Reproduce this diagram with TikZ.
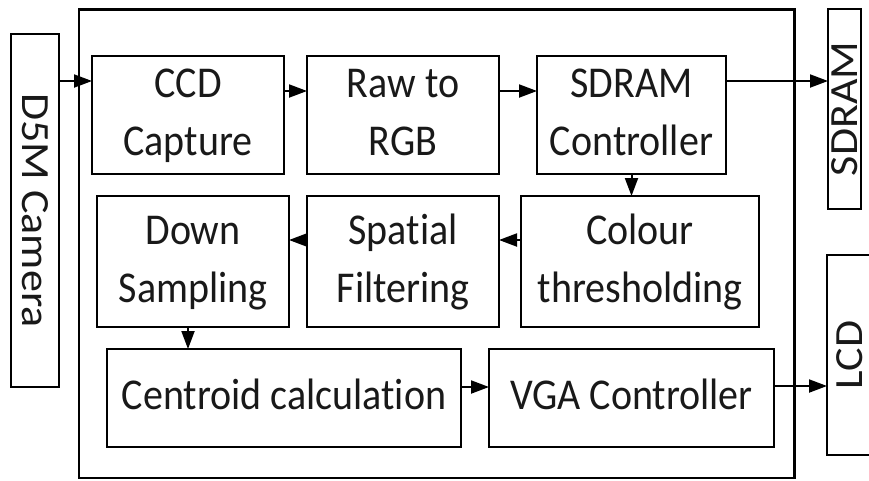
\documentclass[tikz,border=0pt]{standalone}
\usepackage{fontspec}
\setmainfont{Carlito}[Ligatures=NoCommon]
\usetikzlibrary{arrows.meta}
% text slightly taller than wide, as in the block labels
\newcommand{\blocktext}[1]{\scalebox{1}[1.1]{\begin{tabular}{@{}c@{}}#1\end{tabular}}}
\newcommand{\sidetext}[1]{\scalebox{1.1}[1]{#1}}
\tikzset{
  block/.style={draw=black, line width=2pt, inner sep=0pt, outer sep=0pt,
    font=\fontsize{40}{52.7}\selectfont, text=black!90},
  frame/.style={draw=black, line width=2.2pt, inner sep=0pt, outer sep=0pt},
  arr/.style={line width=2pt, -{Triangle[length=18pt,width=13pt]}},
}
\begin{document}
\begin{tikzpicture}[x=1pt,y=-1pt]
\clip (0,0) rectangle (869,480);
\fill[white] (0,0) rectangle (869,480);
% FPGA frame
\node[frame, minimum width=715.5pt, minimum height=468.5pt] (fpga) at (436.75,243.75) {};
% external devices
\node[block, minimum width=48pt, minimum height=353pt] (cam) at (35,210.5)
  {\rotatebox{-90}{\sidetext{D5M Camera}}};
\node[block, minimum width=33pt, minimum height=200pt] (sdram) at (844.5,109)
  {\rotatebox{90}{\sidetext{SDRAM}}};
\node[block, minimum width=46pt, minimum height=200pt] (lcd) at (850,355)
  {\rotatebox{90}{\raisebox{0pt}[\height][0pt]{\sidetext{LCD}}}};
% processing blocks
\node[block, minimum width=192pt, minimum height=118pt] (ccd) at (188,115) {\blocktext{CCD\\Capture}};
\node[block, minimum width=192pt, minimum height=118pt] (raw) at (403,115) {\blocktext{Raw to\\RGB}};
\node[block, minimum width=189pt, minimum height=118pt] (sdc) at (631.5,115) {\blocktext{SDRAM\\Controller}};
\node[block, minimum width=192pt, minimum height=131pt] (down) at (193,261.5) {\blocktext{Down\\Sampling}};
\node[block, minimum width=192pt, minimum height=131pt] (spat) at (403,261.5) {\blocktext{Spatial\\Filtering}};
\node[block, minimum width=238pt, minimum height=131pt] (colour) at (640,261.5) {\blocktext{Colour\\thresholding}};
\node[block, minimum width=354pt, minimum height=98pt] (cent) at (284,398) {\blocktext{Centroid calculation}};
\node[block, minimum width=285pt, minimum height=98pt] (vga) at (631.5,398) {\blocktext{VGA Controller}};
% data flow
\draw[arr] ([yshift=-47pt]cam.north east) -- ([yshift=-25pt]ccd.north west);
\draw[arr] ([yshift=24pt]ccd.east) -- ([yshift=24pt]raw.west);
\draw[arr] ([yshift=24pt]raw.east) -- ([yshift=24pt]sdc.west);
\coordinate (memout) at ([yshift=34pt]sdc.east);
\draw[arr] (memout) -- (memout -| sdram.west);
\draw[arr] (sdc.south) -- (sdc.south |- colour.north);
\draw[arr] ([yshift=21.5pt]colour.west) -- ([yshift=21.5pt]spat.east);
\draw[arr] ([yshift=21.5pt]spat.west) -- ([yshift=21.5pt]down.east);
\coordinate (dsout) at ([xshift=-5pt]down.south);
\draw[arr] (dsout) -- (dsout |- cent.north);
\draw[arr] ([yshift=11pt]cent.east) -- ([yshift=11pt]vga.west);
\coordinate (vgaout) at ([yshift=12pt]vga.east);
\draw[arr] (vgaout) -- (vgaout -| lcd.west);
\end{tikzpicture}
\end{document}
